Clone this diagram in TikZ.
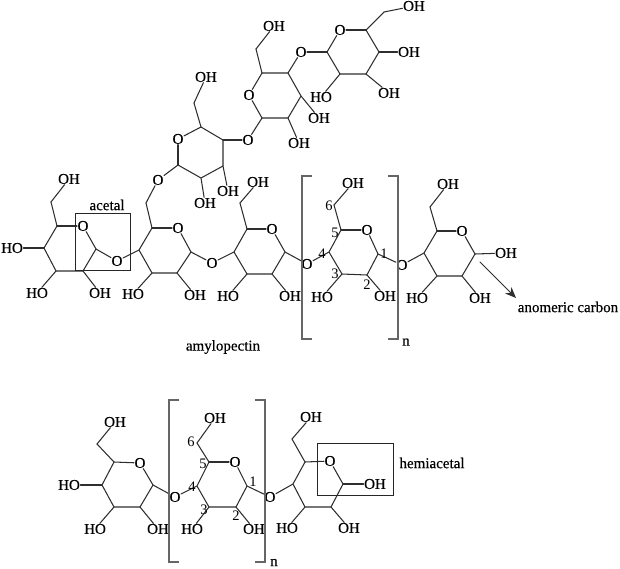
\documentclass[tikz,border=0pt]{standalone}
\usepackage{fontspec}
\setmainfont{Liberation Serif}
\newfontfamily\atomfont[FakeBold=0.5]{Liberation Serif}
\usetikzlibrary{arrows.meta}
\definecolor{bondc}{gray}{0.18}
\tikzset{
  atom/.style={font=\atomfont\fontsize{15}{16}\selectfont,inner sep=0.4pt,text=black},
  num/.style={font=\fontsize{14.5}{15}\selectfont,inner sep=0pt,text=black},
  lab/.style={font=\atomfont\fontsize{15}{16}\selectfont,inner sep=0pt,text=black},
  bond/.style={draw=bondc,line width=1.05pt,line cap=round,line join=round},
  brk/.style={draw=black!60,line width=1.3pt},
  boxr/.style={draw=black!85,line width=1pt,fill=none,inner sep=0pt},
}
% name, C5, O, C1, C2, C3, C4
\newcommand{\pyr}[7]{%
  \coordinate (#1c5) at #2; \node[atom] (#1o) at #3 {O};
  \coordinate (#1c1) at #4; \coordinate (#1c2) at #5;
  \coordinate (#1c3) at #6; \coordinate (#1c4) at #7;
  \draw[bond] (#1c5)--(#1o); \draw[bond] (#1o)--(#1c1);
  \draw[bond] (#1c1)--(#1c2)--(#1c3)--(#1c4)--(#1c5);
}
% from-vertex, node name, position, text
\newcommand{\sub}[4]{\node[atom] (#2) at #3 {#4}; \draw[bond] (#1)--(#2);}
\begin{document}
\begin{tikzpicture}[x=1pt,y=-1pt]
\useasboundingbox (0,0) rectangle (620,568);
% ---------- amylopectin main chain
\pyr{a}{(57,226)}{(83,226)}{(96,249)}{(83,271)}{(56,271)}{(44,248)}
\pyr{b}{(152,228)}{(178,228)}{(191,252)}{(177,273)}{(152,273)}{(139,250)}
\pyr{c}{(247,229)}{(272,229)}{(285,252)}{(272,274)}{(247,274)}{(234,252)}
\pyr{d}{(341,230)}{(367,230)}{(378,254)}{(367,275)}{(342,274)}{(329,252)}
\pyr{e}{(437,231)}{(462,231)}{(475,254)}{(462,276)}{(437,276)}{(424,253)}
% ---------- upper branch
\pyr{f}{(201,127)}{(178,139)}{(178,165)}{(201,178)}{(223,166)}{(223,140)}
\pyr{g}{(262,73)}{(249,95)}{(262,118)}{(288,118)}{(301,96)}{(288,73)}
\pyr{h}{(366,30)}{(340,30)}{(327,52)}{(340,74)}{(366,74)}{(379,52)}
% ---------- amylose
\pyr{i}{(114,462)}{(140,463)}{(153,485)}{(140,507)}{(114,507)}{(102,485)}
\pyr{j}{(209,462)}{(235,462)}{(247,486)}{(236,507)}{(209,507)}{(197,486)}
\pyr{k}{(305,462)}{(330,461)}{(343,484)}{(331,507)}{(305,507)}{(293,484)}
% CH2 carbons
\coordinate (a6) at (51,202); \coordinate (b6) at (146,203);
\coordinate (c6) at (240,203); \coordinate (d6) at (334,205);
\coordinate (e6) at (430,207); \coordinate (f6) at (194,103);
\coordinate (g6) at (256,49); \coordinate (h6) at (384,12);
\coordinate (i6) at (97,444); \coordinate (j6) at (197,443);
\coordinate (k6) at (292,439);
\foreach \r in {a,b,c,d,e,f,g,h,i,j,k} {\draw[bond] (\r c5)--(\r 6);}
% OH of CH2
\sub{a6}{aOH6}{(69,179)}{OH}
\sub{c6}{cOH6}{(258,182)}{OH}
\sub{d6}{dOH6}{(353,183)}{OH}
\sub{e6}{eOH6}{(448,184)}{OH}
\sub{f6}{fOH6}{(206,77)}{OH}
\sub{g6}{gOH6}{(274,26)}{OH}
\sub{h6}{hOH6}{(414,6)}{OH}
\sub{i6}{iOH6}{(115,422)}{OH}
\sub{j6}{jOH6}{(215,418)}{OH}
\sub{k6}{kOH6}{(311,417)}{OH}
% ring hydroxyls
\sub{ac4}{aOH4}{(12,248)}{HO}
\sub{ac3}{aOH3}{(37,293)}{HO}
\sub{ac2}{aOH2}{(100,293)}{OH}
\sub{bc3}{bOH3}{(133,294)}{HO}
\sub{bc2}{bOH2}{(195,295)}{OH}
\sub{cc3}{cOH3}{(228,296)}{HO}
\sub{cc2}{cOH2}{(290,296)}{OH}
\sub{dc3}{dOH3}{(322,297)}{HO}
\sub{dc2}{dOH2}{(385,296)}{OH}
\sub{ec1}{eOH1}{(506,253)}{OH}
\sub{ec3}{eOH3}{(417,298)}{HO}
\sub{ec2}{eOH2}{(480,298)}{OH}
\sub{fc2}{fOH2}{(205,203)}{OH}
\sub{fc3}{fOH3}{(228,191)}{OH}
\sub{gc3}{gOH3}{(319,118)}{OH}
\sub{gc2}{gOH2}{(299,143)}{OH}
\sub{hc4}{hOH4}{(409,52)}{OH}
\sub{hc3}{hOH3}{(389,93)}{OH}
\sub{hc2}{hOH2}{(321,97)}{HO}
\sub{ic4}{iOH4}{(69,485)}{HO}
\sub{ic3}{iOH3}{(95,529)}{HO}
\sub{ic2}{iOH2}{(158,529)}{OH}
\sub{jc3}{jOH3}{(192,529)}{HO}
\sub{jc2}{jOH2}{(254,529)}{OH}
\sub{kc1}{kOH1}{(375,484)}{OH}
\sub{kc3}{kOH3}{(287,528)}{HO}
\sub{kc2}{kOH2}{(349,528)}{OH}
% glycosidic oxygens
\node[atom] (oab) at (117,261) {O}; \draw[bond] (ac1)--(oab); \draw[bond] (oab)--(bc4);
\node[atom] (obc) at (212,263) {O}; \draw[bond] (bc1)--(obc); \draw[bond] (obc)--(cc4);
\node[atom] (ocd) at (307,264) {O}; \draw[bond] (cc1)--(ocd); \draw[bond] (ocd)--(dc4);
\node[atom] (ode) at (402,265) {O}; \draw[bond] (dc1)--(ode); \draw[bond] (ode)--(ec4);
\node[atom] (ofb) at (158,180) {O}; \draw[bond] (fc1)--(ofb); \draw[bond] (ofb)--(b6);
\node[atom] (ogf) at (248,140) {O}; \draw[bond] (gc1)--(ogf); \draw[bond] (ogf)--(fc4);
\node[atom] (ohg) at (301,52) {O}; \draw[bond] (hc1)--(ohg); \draw[bond] (ohg)--(gc4);
\node[atom] (oij) at (175,497) {O}; \draw[bond] (ic1)--(oij); \draw[bond] (oij)--(jc4);
\node[atom] (ojk) at (270,497) {O}; \draw[bond] (jc1)--(ojk); \draw[bond] (ojk)--(kc4);
% carbon numbers
\node[num] (dn6) at (329,206) {6};
\node[num] (dn5) at (335,233) {5};
\node[num] (dn4) at (322,254) {4};
\node[num] (dn3) at (335,274) {3};
\node[num] (dn2) at (367,285) {2};
\node[num] (dn1) at (384,254) {1};
\node[num] (jn6) at (191,442) {6};
\node[num] (jn5) at (203,464) {5};
\node[num] (jn4) at (192,487) {4};
\node[num] (jn3) at (204,510) {3};
\node[num] (jn2) at (236,516) {2};
\node[num] (jn1) at (253,482) {1};
% brackets
\coordinate (t1a) at (312,176); \coordinate (t1b) at (302,176); \coordinate (t1c) at (302,339); \coordinate (t1d) at (312,339);
\coordinate (t2a) at (388,176); \coordinate (t2b) at (398,176); \coordinate (t2c) at (398,339); \coordinate (t2d) at (388,339);
\coordinate (t3a) at (179,400); \coordinate (t3b) at (169,400); \coordinate (t3c) at (169,562); \coordinate (t3d) at (179,562);
\coordinate (t4a) at (255,400); \coordinate (t4b) at (265,400); \coordinate (t4c) at (265,562); \coordinate (t4d) at (255,562);
\draw[brk] (t1a)--(t1b)--(t1c)--(t1d);
\draw[brk] (t2a)--(t2b)--(t2c)--(t2d);
\draw[brk] (t3a)--(t3b)--(t3c)--(t3d);
\draw[brk] (t4a)--(t4b)--(t4c)--(t4d);
\node[lab] (n1) at (406,342) {n};
\node[lab] (n2) at (274,562.5) {n};
% highlight boxes
\coordinate (acetalA) at (75,213); \coordinate (acetalB) at (130,270);
\draw[boxr] (acetalA) rectangle (acetalB);
\coordinate (hemiA) at (317,443); \coordinate (hemiB) at (393,495);
\draw[boxr] (hemiA) rectangle (hemiB);
% labels
\node[lab] (acetal) at (107,205) {acetal};
\node[lab] (hemi) at (432,463) {hemiacetal};
\node[lab] (amylo) at (223,347) {amylopectin};
\node[lab] (anom) at (568,307) {anomeric carbon};
\coordinate (arrowfrom) at (480,262);
\coordinate (arrowto) at (516,298);
\draw[bond,line width=0.9pt,-{Stealth[length=11pt,width=9pt]}] (arrowfrom)--(arrowto);
\end{tikzpicture}
\end{document}
